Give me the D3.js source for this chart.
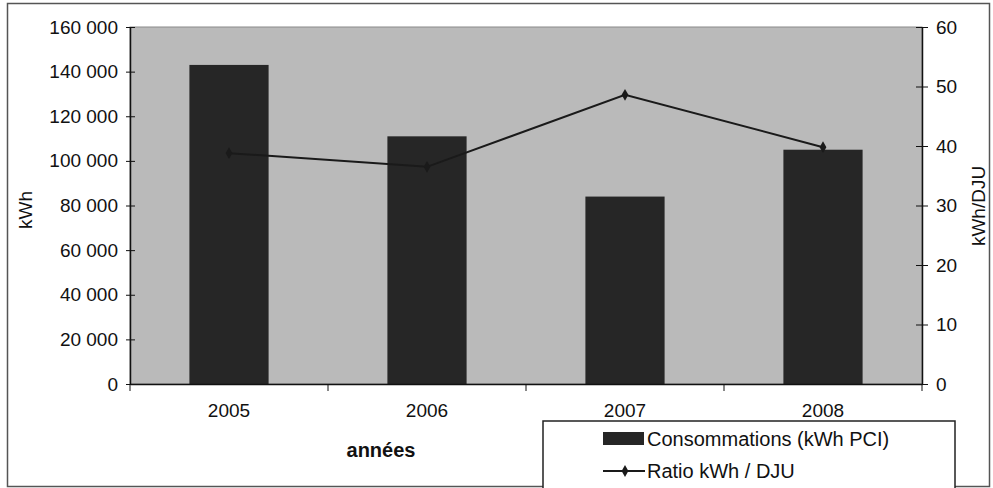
<!DOCTYPE html>
<html>
<head>
<meta charset="utf-8">
<script src="https://cdn.jsdelivr.net/npm/d3@7"></script>
<style>
  body { margin: 0; background: #fff; }
  text { font-family: "Liberation Sans", Arial, sans-serif; fill: #111; }
</style>
</head>
<body>
<div id="chart"></div>
<script>
// Consommations et ratio kWh/DJU par année
const years = ["2005", "2006", "2007", "2008"];
const consommations = [143000, 111000, 84000, 105000];
const ratio = [38.8, 36.5, 48.6, 39.8];
const leftTicks = [0, 20000, 40000, 60000, 80000, 100000, 120000, 140000, 160000];
const rightTicks = [0, 10, 20, 30, 40, 50, 60];

const W = 993, H = 488;
const margin = {top: 27, right: 71, bottom: 104, left: 130},
    width = W - margin.left - margin.right,
    height = H - margin.top - margin.bottom;

const root = d3.select("#chart")
    .append("svg")
    .attr("width", W)
    .attr("height", H);

// outer frame
root.append("rect")
    .attr("x", 7.5).attr("y", 3.5)
    .attr("width", 982).attr("height", 483)
    .attr("fill", "#fff")
    .attr("stroke", "#555")
    .attr("stroke-width", 1.5);

const svg = root.append("g")
    .attr("transform", `translate(${margin.left},${margin.top})`);

const fr = d3.formatLocale({decimal: ",", thousands: " ", grouping: [3], currency: ["", " €"]});
const fmt = fr.format(",");

// scales
const x = d3.scaleBand().domain(years).range([0, width]).padding(0);
const y = d3.scaleLinear().domain([0, 160000]).range([height, 0]);
const y2 = d3.scaleLinear().domain([0, 60]).range([height, 0]);

// plot area
svg.append("rect")
    .attr("x", 0).attr("y", 0)
    .attr("width", width).attr("height", height)
    .attr("fill", "#bababa")
    .attr("stroke", "#8a8a8a")
    .attr("stroke-width", 1);

// bars
const barW = x.bandwidth() / 2.5;
svg.selectAll(".bar")
    .data(consommations)
    .enter()
    .append("rect")
    .attr("class", "bar")
    .attr("x", (d, i) => x(years[i]) + (x.bandwidth() - barW) / 2)
    .attr("y", d => y(d))
    .attr("width", barW)
    .attr("height", d => height - y(d))
    .attr("fill", "#262626");

// ratio line
const line = d3.line()
    .x((d, i) => x(years[i]) + x.bandwidth() / 2)
    .y(d => y2(d));

svg.append("path")
    .datum(ratio)
    .attr("d", line)
    .attr("fill", "none")
    .attr("stroke", "#1a1a1a")
    .attr("stroke-width", 2);

svg.selectAll(".pt")
    .data(ratio)
    .enter()
    .append("path")
    .attr("class", "pt")
    .attr("d", d3.symbol(d3.symbolDiamond, 40))
    .attr("transform", (d, i) => `translate(${x(years[i]) + x.bandwidth() / 2},${y2(d)})`)
    .attr("fill", "#1a1a1a");

// axes
const axL = svg.append("g")
    .call(d3.axisLeft(y).tickValues(leftTicks).tickFormat(fmt).tickSizeInner(0).tickSizeOuter(0).tickPadding(12));
axL.selectAll(".tick").append("line").attr("x1", -4).attr("x2", 5).attr("stroke", "#111");

const axR = svg.append("g")
    .attr("transform", `translate(${width},0)`)
    .call(d3.axisRight(y2).tickValues(rightTicks).tickSizeInner(0).tickSizeOuter(0).tickPadding(14));
axR.selectAll(".tick").append("line").attr("x1", -6).attr("x2", 6).attr("stroke", "#111");

const axB = svg.append("g")
    .attr("transform", `translate(0,${height})`)
    .call(d3.axisBottom(x).tickSize(0).tickPadding(20));
// category boundary ticks
axB.selectAll(".sep")
    .data(d3.range(years.length + 1))
    .enter()
    .append("line")
    .attr("x1", i => i * x.bandwidth()).attr("x2", i => i * x.bandwidth())
    .attr("y1", 0).attr("y2", 7)
    .attr("stroke", "#111");

[axL, axR, axB].forEach(a => {
    a.select(".domain").attr("stroke", "#111").attr("stroke-width", 1.5);
    a.selectAll("text").style("font-size", "19px").style("font-family", "Liberation Sans, Arial, sans-serif").attr("fill", "#111");
});

// axis titles
root.append("text")
    .attr("transform", "rotate(-90)")
    .attr("x", -210).attr("y", 32)
    .attr("text-anchor", "middle")
    .style("font-size", "19px")
    .text("kWh");

root.append("text")
    .attr("transform", "rotate(-90)")
    .attr("x", -206).attr("y", 985)
    .attr("text-anchor", "middle")
    .style("font-size", "19px")
    .text("kWh/DJU");

root.append("text")
    .attr("x", 381).attr("y", 457)
    .attr("text-anchor", "middle")
    .style("font-size", "20px")
    .style("font-weight", "bold")
    .text("années");

// legend
const lg = root.append("g").attr("transform", "translate(543,421)");
lg.append("rect")
    .attr("width", 412).attr("height", 68)
    .attr("fill", "#fff")
    .attr("stroke", "#222")
    .attr("stroke-width", 1.5);
lg.append("rect")
    .attr("x", 60).attr("y", 11)
    .attr("width", 41).attr("height", 13)
    .attr("fill", "#262626");
lg.append("text")
    .attr("x", 104).attr("y", 25)
    .style("font-size", "20px")
    .text("Consommations (kWh PCI)");
lg.append("line")
    .attr("x1", 60).attr("x2", 102)
    .attr("y1", 50).attr("y2", 50)
    .attr("stroke", "#1a1a1a").attr("stroke-width", 2);
lg.append("path")
    .attr("d", d3.symbol(d3.symbolDiamond, 40))
    .attr("transform", "translate(82,50)")
    .attr("fill", "#1a1a1a");
lg.append("text")
    .attr("x", 104).attr("y", 57)
    .style("font-size", "20px")
    .text("Ratio kWh / DJU");
</script>
</body>
</html>
